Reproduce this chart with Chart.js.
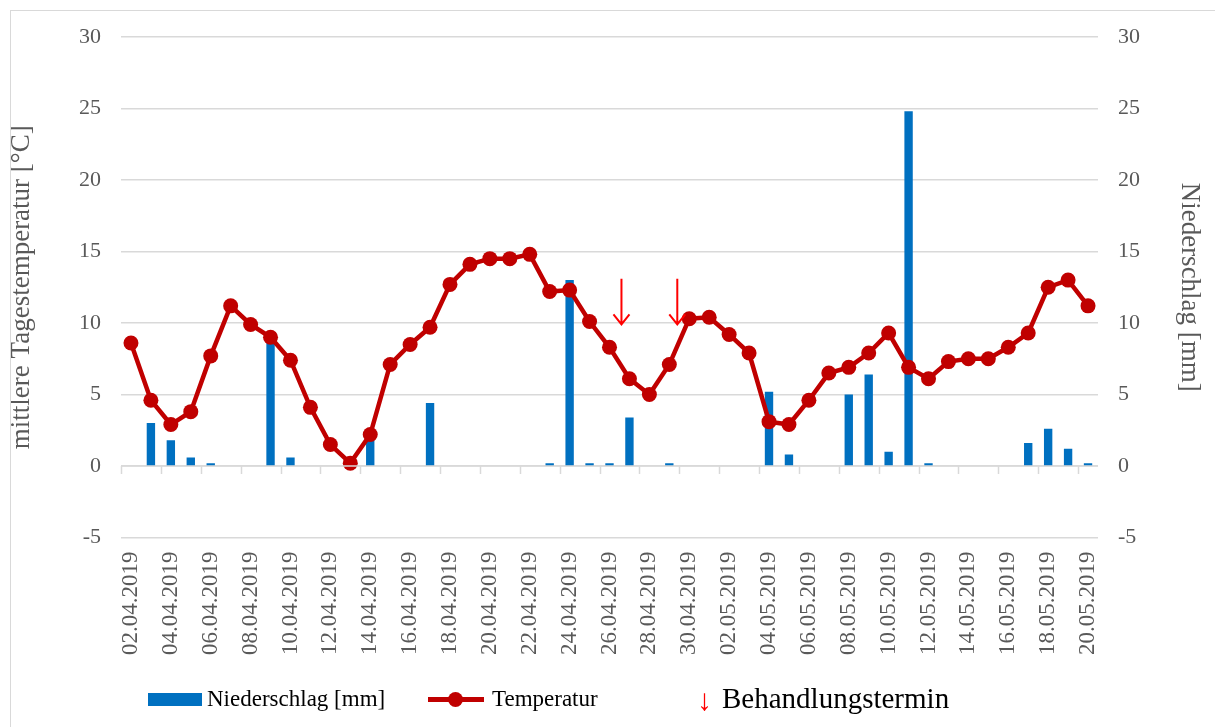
<!DOCTYPE html>
<html>
<head>
<meta charset="utf-8">
<script src="https://cdn.jsdelivr.net/npm/chart.js@4.4.0/dist/chart.umd.min.js"></script>
<style>
  body { margin: 0; background: #fff; }
  #wrap { position: relative; width: 1215px; height: 727px; overflow: hidden; }
  #frame { position: absolute; left: 10px; top: 10px; width: 1215px; height: 727px; border: 1px solid #d9d9d9; box-sizing: border-box; }
  #legend { position: absolute; top: 683px; left: 0; width: 1215px; height: 36px; font-family: "Liberation Serif", serif; color: #000; }
  #legend span { position: absolute; }
</style>
</head>
<body>
<div id="wrap">
  <div id="frame"></div>
  <canvas id="weatherChart" width="1215" height="727"></canvas>
  <div id="legend">
    <span style="left:148px; top:10px; width:54px; height:13px; background:#0070C0;"></span>
    <span style="left:207px; top:3px; font-size:23px;">Niederschlag [mm]</span>
    <span style="left:428px; top:14px; width:56px; height:5px; background:#C00000;"></span>
    <span style="left:448px; top:9px; width:15px; height:15px; border-radius:50%; background:#C00000;"></span>
    <span style="left:492px; top:3px; font-size:23px;">Temperatur</span>
    <span style="left:697px; top:0px; font-size:30px; color:#FF0000;">↓</span>
    <span style="left:722px; top:-1px; font-size:29px;">Behandlungstermin</span>
  </div>
</div>
<script>
// categories: 02.04.2019 - 20.05.2019
const dates = [
  "02.04.2019", "03.04.2019", "04.04.2019", "05.04.2019", "06.04.2019", "07.04.2019", "08.04.2019",
  "09.04.2019", "10.04.2019", "11.04.2019", "12.04.2019", "13.04.2019", "14.04.2019", "15.04.2019",
  "16.04.2019", "17.04.2019", "18.04.2019", "19.04.2019", "20.04.2019", "21.04.2019", "22.04.2019",
  "23.04.2019", "24.04.2019", "25.04.2019", "26.04.2019", "27.04.2019", "28.04.2019", "29.04.2019",
  "30.04.2019", "01.05.2019", "02.05.2019", "03.05.2019", "04.05.2019", "05.05.2019", "06.05.2019",
  "07.05.2019", "08.05.2019", "09.05.2019", "10.05.2019", "11.05.2019", "12.05.2019", "13.05.2019",
  "14.05.2019", "15.05.2019", "16.05.2019", "17.05.2019", "18.05.2019", "19.05.2019", "20.05.2019"
];

// mittlere Tagestemperatur [°C]
const temperatur = [
  8.6, 4.6, 2.9, 3.8, 7.7, 11.2, 9.9,
  9.0, 7.4, 4.1, 1.5, 0.2, 2.2, 7.1,
  8.5, 9.7, 12.7, 14.1, 14.5, 14.5, 14.8,
  12.2, 12.3, 10.1, 8.3, 6.1, 5.0, 7.1,
  10.3, 10.4, 9.2, 7.9, 3.1, 2.9, 4.6,
  6.5, 6.9, 7.9, 9.3, 6.9, 6.1, 7.3,
  7.5, 7.5, 8.3, 9.3, 12.5, 13.0, 11.2
];

// Niederschlag [mm]
const niederschlag = [
  0, 3.0, 1.8, 0.6, 0.2, 0, 0,
  9.0, 0.6, 0, 0, 0, 2.0, 0,
  0, 4.4, 0, 0, 0, 0, 0,
  0.2, 13.0, 0.2, 0.2, 3.4, 0, 0.2,
  0, 0, 0, 0, 5.2, 0.8, 0,
  0, 5.0, 6.4, 1.0, 24.8, 0.2, 0,
  0, 0, 0, 1.6, 2.6, 1.2, 0.2
];

// Behandlungstermine (position on the date axis, arrow top/bottom in °C)
const arrowPos = [24.6, 27.4];
const arrowTop = [13.1, 13.1];
const arrowBottom = [9.9, 9.9];

const yTicks = [-5, 0, 5, 10, 15, 20, 25, 30];

const FONT = "'Liberation Serif', 'Times New Roman', serif";
const GREY = "#595959";

// small tick marks on the 0-line every 2 days + the treatment arrows
const extrasPlugin = {
  id: "extras",
  afterDatasetsDraw(chart) {
    const ctx = chart.ctx;
    const x = chart.scales.x;
    const y = chart.scales.y;
    const y0 = y.getPixelForValue(0);

    ctx.save();
    ctx.strokeStyle = "#d9d9d9";
    ctx.lineWidth = 1.5;
    ctx.beginPath();
    ctx.moveTo(chart.chartArea.left, y0);
    ctx.lineTo(chart.chartArea.right, y0);
    for (let i = 0; i <= dates.length; i += 2) {
      const px = Math.round(x.getPixelForValue(i - 0.5)) + 0.5;
      ctx.moveTo(px, y0);
      ctx.lineTo(px, y0 + 8);
    }
    ctx.stroke();

    // arrows
    ctx.strokeStyle = "#FF0000";
    ctx.lineWidth = 2;
    arrowPos.forEach((p, i) => {
      const px = x.getPixelForValue(p);
      const t = y.getPixelForValue(arrowTop[i]);
      const b = y.getPixelForValue(arrowBottom[i]);
      ctx.beginPath();
      ctx.moveTo(px, t);
      ctx.lineTo(px, b);
      ctx.moveTo(px - 8, b - 10);
      ctx.lineTo(px, b);
      ctx.lineTo(px + 8, b - 10);
      ctx.stroke();
    });
    ctx.restore();
  }
};

const canvas = document.getElementById("weatherChart");
new Chart(canvas, {
  data: {
    labels: dates,
    datasets: [
      {
        type: "line",
        label: "Temperatur",
        data: temperatur,
        yAxisID: "y",
        borderColor: "#C00000",
        backgroundColor: "#C00000",
        borderWidth: 4.5,
        pointRadius: 7.5,
        pointHoverRadius: 7.5,
        pointBorderWidth: 0,
        tension: 0,
        order: 0
      },
      {
        type: "bar",
        label: "Niederschlag [mm]",
        data: niederschlag,
        yAxisID: "y1",
        backgroundColor: "#0070C0",
        barPercentage: 0.42,
        categoryPercentage: 1.0,
        order: 1
      }
    ]
  },
  plugins: [extrasPlugin],
  options: {
    responsive: false,
    animation: false,
    layout: { padding: { left: 4, right: 8, top: 37, bottom: 66 } },
    plugins: {
      legend: { display: false },
      tooltip: { enabled: false }
    },
    scales: {
      x: {
        offset: true,
        grid: { display: false },
        border: { display: false },
        ticks: {
          autoSkip: false,
          maxRotation: 90,
          minRotation: 90,
          color: GREY,
          font: { family: FONT, size: 23 },
          padding: 6,
          callback: function (v, i) { return i % 2 === 0 ? dates[i] : null; }
        }
      },
      y: {
        position: "left",
        min: -5,
        max: 30,
        afterBuildTicks(s) { s.ticks = yTicks.map(v => ({ value: v })); },
        grid: { color: "#d9d9d9", lineWidth: 1.5, drawTicks: false },
        border: { display: false },
        ticks: { color: GREY, font: { family: FONT, size: 22 }, padding: 20 },
        title: { display: true, text: "mittlere Tagestemperatur [°C]", color: GREY, font: { family: FONT, size: 27 }, padding: 2 },
        afterFit(s) { s.width = 117; }
      },
      y1: {
        position: "right",
        min: -5,
        max: 30,
        afterBuildTicks(s) { s.ticks = yTicks.map(v => ({ value: v })); },
        grid: { display: false, drawTicks: false },
        border: { display: false },
        ticks: { color: GREY, font: { family: FONT, size: 22 }, padding: 20 },
        title: { display: true, text: "Niederschlag [mm]", color: GREY, font: { family: FONT, size: 27 }, padding: 2 },
        afterFit(s) { s.width = 109; }
      }
    }
  }
});
</script>
</body>
</html>
